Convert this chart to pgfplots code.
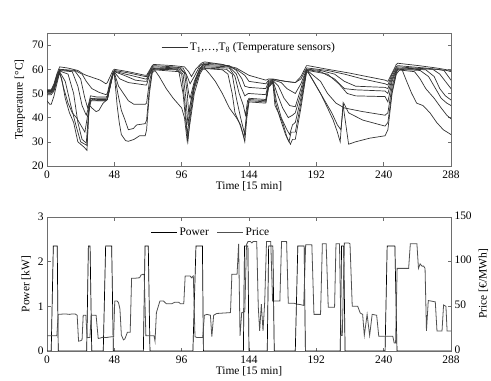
\documentclass[border=0pt]{standalone}
\usepackage{fontspec}
\setmainfont{Liberation Serif}
\usepackage{pgfplots}
\pgfplotsset{compat=1.18}
\definecolor{tempgray}{RGB}{50,50,50}
\definecolor{pricegray}{RGB}{80,80,80}
\definecolor{framegray}{RGB}{110,110,110}

\pgfplotsset{
  matlab/.style={
    scale only axis, width=404bp,
    xmin=0, xmax=288, xtick={0,48,...,288},
    tick align=inside, major tick length=3.5bp,
    axis line style={framegray, line width=0.7pt},
    tick style={framegray, line width=0.6pt},
    font=\fontsize{11.5}{13}\selectfont,
    /pgf/number format/assume math mode=true,
    xlabel={Time [15 min]},
    xlabel style={yshift=4bp},
    xticklabel style={yshift=-1bp},
    legend style={draw=none, fill=none, font=\fontsize{11.5}{13}\selectfont},
    legend image code/.code={\draw[#1] (0bp,0bp) -- (26bp,0bp);},
  },
}

\begin{document}
\begin{tikzpicture}
\useasboundingbox (0,0) rectangle (491bp,381bp);

% temperature sensors
\begin{axis}[matlab,
  at={(47bp,215bp)}, anchor=south west, height=133bp,
  ymin=20, ymax=75, ytick={20,30,...,70},
  ylabel={Temperature [°C]},
  legend style={at={(0.5,0.96)}, anchor=north},
]
\addplot[tempgray, line width=0.7pt] coordinates {(0,51.5) (3,51.5) (5,54) (7,58) (9,61) (15,60.5) (22,59.5) (26,58) (28,57.5) (33,56.5) (38,55.5) (42,54) (43,54.5) (45,57) (47,59.5) (48,60) (58,59) (70,57.5) (71,57.5) (73,59.5) (75,61.5) (76,62) (90,61.5) (98,61) (101,59) (103,57) (106,60) (110,62.5) (112,63) (113,63) (125,62) (135,60.5) (141,58.5) (144,57.5) (156,55.5) (158,56) (161,56) (170,55) (177,54.5) (181,57) (185,61.5) (186,61.5) (200,60) (215,58.5) (228,57) (241,55.5) (243,55) (246,58.5) (249,62) (250,62.5) (265,61.5) (278,60.5) (288,59.5)};
\addlegendentry{T\textsubscript{1},\ldots,T\textsubscript{8} (Temperature sensors)}
\addplot[tempgray, line width=0.7pt, forget plot] coordinates {(0,51.2) (3,51.2) (5,53.5) (7,57.5) (9,60) (20,59.5) (25,58) (28,55) (32,52) (37,50.5) (42,49.5) (43,50) (45,55) (47,58.5) (48,59.5) (58,58.5) (70,57) (71,57) (73,59) (75,61) (76,61.5) (90,61) (97,60.5) (100,57) (102,54) (105,57) (109,61.5) (112,62.5) (113,62.5) (125,62) (135,60) (141,57.5) (144,55) (156,54) (158,55.5) (161,55.8) (170,55) (177,54.5) (181,56) (185,60.5) (186,60.5) (200,59.5) (212,58) (225,56) (241,54) (243,53.5) (246,58) (249,61) (250,61.5) (270,60.5) (285,59.5) (288,59)};
\addplot[tempgray, line width=0.7pt, forget plot] coordinates {(0,51) (3,51) (5,53) (7,57) (9,59.8) (20,59.2) (24,56) (27,48) (29,44) (31,49) (36,48.5) (42,48.5) (43,49) (45,54) (47,58) (48,59.2) (56,58) (70,56) (71,56) (73,58.5) (75,60.5) (76,61) (95,60.5) (99,58) (101,50) (102,48) (105,55) (109,60.5) (112,62) (113,62) (130,61.5) (135,59.5) (139,56) (141,53) (144,52.5) (156,52) (158,55) (161,55.6) (167,54.5) (171,52) (177,50) (181,54) (185,60) (186,60) (195,59.5) (205,58) (212,55) (220,53) (241,52.5) (243,52) (246,57) (249,60.5) (250,61) (270,60.2) (278,60) (283,59.5) (288,55.5)};
\addplot[tempgray, line width=0.7pt, forget plot] coordinates {(0,50.8) (3,50.8) (5,52.5) (7,56.5) (9,59.5) (18,59) (22,53) (25,45) (28,41) (29.5,44) (31,48) (36,47.5) (42,47.5) (43,48) (45,53.5) (47,58.5) (48,59) (55,57.5) (63,55.5) (70,55) (71,55) (73,58) (75,60) (76,60.5) (94,60.2) (98,58.5) (100,50) (101,42) (103,48) (106,56) (109,60) (111,62) (113,61.5) (130,61) (135,58) (138,53) (141,49) (143.5,50) (156,49.5) (158,54.5) (161,55.4) (165,53) (169,48) (173,45) (177,44.5) (181,52) (185,59.8) (186,59.8) (195,59) (205,56) (212,52) (220,51.5) (241,51) (243,50) (246,56) (249,60) (250,60.5) (275,60) (280,58) (284,55) (288,52)};
\addplot[tempgray, line width=0.7pt, forget plot] coordinates {(0,50.5) (3,50.5) (5,52) (7,56) (9,59.3) (15,58) (19,50) (22,38) (25,31) (28,29.5) (30,45) (31.5,48) (36,47) (42,47) (43,47.5) (45,53) (47,58.5) (48,58.8) (52,56) (58,54.5) (70,53.5) (71,53.5) (73,57.5) (75,60) (76,60.3) (93,60) (97,58) (99,48) (100.5,37) (102,45) (105,54) (109,60) (111,61.5) (113,61) (130,60.5) (134,57) (137,50) (140,45) (141.5,41) (143,47) (144,48) (156,47.5) (158,54) (161,55.2) (164,50) (168,44) (172,40) (175,41) (177,42) (181,50) (185,59.5) (186,59.5) (200,58) (208,54) (214,50) (220,49) (241,48.7) (243,46.5) (246,55) (249,59.5) (250,60.2) (270,59.8) (276,57) (280,52) (284,49) (288,47.3)};
\addplot[tempgray, line width=0.7pt, forget plot] coordinates {(0,50.2) (3,50.2) (5,51.5) (7,55.5) (9,59) (13,55) (17,45) (21,36) (24,30) (27,29) (28.5,28.5) (30,44) (31.5,47) (42,47) (43,47.5) (45,53) (47,58) (48,58.5) (51,53) (54.5,50) (58,47) (62,45.5) (70,45.5) (71,46) (73,55) (75,59.5) (76,60) (92,59.8) (96,58) (98.5,45) (100,33) (102,42) (105,53) (109,59) (111,61) (113,60.5) (128,60) (132,58) (135,48) (138,40) (141,33) (142.5,43) (144,47.5) (156,47) (158,53.5) (161,55) (163.5,47) (167,40) (171,35) (173,33) (175,37) (177,38) (181,48) (185,59.3) (186,59.3) (195,55) (200,50) (206,46) (212,44) (225,42.5) (241,41) (243,42) (246,53) (249,59) (250,60) (266,59.5) (272,57) (277,52) (281,48) (285,46) (288,45)};
\addplot[tempgray, line width=0.7pt, forget plot] coordinates {(0,49.5) (3,49.5) (5,51) (7,55) (9,58.8) (12,52) (15,46) (18,42) (21,40) (24,37) (27,34) (29,41) (30.5,45) (32,44) (35,42.5) (37,43) (40,46) (42,47) (43,47.5) (45,52.5) (47,58) (48,58.2) (50.5,50) (53,43) (55,40) (58,35) (61.5,35.5) (64,37) (70,37.5) (71,39) (73,52) (75,59) (76,59.8) (94,59) (97,50) (99,38) (100.5,30.5) (102,40) (105,52) (109,59) (111,60.5) (113,60.3) (125,59.8) (129,58) (132,50) (134,42) (137,38) (140.5,32) (142.5,42) (144,47) (156,46.5) (158,53) (161,54.7) (163,46) (166,40) (170,33) (172.5,30) (174,34) (177,34) (181,46) (185,59) (186,59) (192,53) (198,47) (203,42) (207,37) (209.5,35) (211.5,46) (215,42) (225,39) (241,36.5) (243,38) (246,51) (249,58.5) (250,59.8) (262,59) (266,56) (270,52) (276,48) (281,44) (285,41) (288,39.5)};
\addplot[tempgray, line width=0.7pt, forget plot] coordinates {(0,47) (2,45.5) (3,45.5) (5,49) (7,54) (9,58.5) (10.5,56) (13,48) (16,42) (19,38) (22,30) (24,29) (26,28) (28.5,26.5) (29.5,40) (31,47) (34,48) (40,48) (42,48) (43,48.5) (45,53) (47,57.5) (48,58) (50,45) (51.5,38) (53,33) (56,30.5) (58,30.2) (62,31) (66,32.5) (70,32.5) (71,35) (73,50) (75,58.5) (77,59.5) (80,57) (85,52) (90,48) (93,46) (96,44) (98,40) (100,30) (102,38) (105,50) (109,58) (111,60) (113,60) (116,58) (120,55) (125,50) (130,44) (135,40) (138,37) (141,30) (142.5,40) (144,46.5) (156,46) (158,52.5) (161,54.5) (162.5,45) (165,42) (168,38) (171,32) (173.5,29) (175,31) (177,31) (181,44) (185,58.8) (186,58.8) (190,55) (195,50) (200,44) (204,39) (207,34) (209,30) (211,45.5) (215,29) (220,30) (230,31.5) (241,32.5) (243,35) (246,50) (249,58) (251,59.5) (253,60) (256.4,55) (260,50) (263.5,46) (268,45) (273,42) (277.8,38) (282.5,35) (288,33)};
\end{axis}

% power (left axis)
\begin{axis}[matlab,
  at={(47bp,30bp)}, anchor=south west, height=134bp,
  ymin=0, ymax=3, ytick={0,1,2,3}, ytick pos=left,
  ylabel={Power [kW]},
]
\addplot[black, line width=0.7pt] coordinates {(0,0) (3,0) (4.5,2.35) (7.3,2.35) (8,0) (28.3,0) (29.5,2.35) (30.7,2.35) (31.9,0) (40.1,0) (41.8,2.35) (46.1,2.35) (47.3,0) (68.7,0) (69.9,2.35) (72.2,2.35) (73.4,0) (104,0) (106.2,2.35) (110.8,2.35) (111.5,0) (140,0) (140.8,2.35) (143.2,2.35) (144,0) (157,0) (158,2.35) (161,2.35) (162,0) (177,0) (178.8,2.35) (183.3,2.35) (184.2,0) (209,0) (210,2.35) (211.5,2.35) (212.5,0) (241,0) (242.5,2.35) (248,2.35) (249.5,0) (288,0)};
\end{axis}

% price (right axis)
\begin{axis}[matlab,
  at={(47bp,30bp)}, anchor=south west, height=134bp,
  axis x line=none, axis y line*=right,
  ymin=0, ymax=150, ytick={0,50,100,150},
  yticklabel style={yshift=1.5bp},
  ylabel={Price [€/MWh]},
  legend style={at={(0.406,0.95)}, anchor=north, legend columns=2,
    /tikz/every even column/.append style={column sep=6bp}},
]
\addlegendimage{black, line width=0.7pt}
\addlegendentry{Power}
\addplot[pricegray, line width=0.8pt] coordinates {(0,17) (7,17) (8,41) (13,41.5) (16,41) (18,41.5) (20,41.5) (21.5,40) (22.5,11) (24,11.5) (25,12.5) (25.8,40) (27.7,40) (28.6,15) (30.6,15) (31.5,40) (35,40) (36.5,14) (38,14.5) (40,15.5) (42,15) (44,15.5) (46.5,16) (47.5,16) (48.3,56) (50,56) (51,54) (52,47) (53,18) (54.5,12.5) (55.5,13.5) (56.5,17.5) (57.3,21) (59.3,21) (60.3,81.5) (63,81.5) (66,82) (67,85) (68.5,86) (69.3,85) (70.5,17) (73,17) (76.3,17) (77,11) (78,43) (80.5,56) (83,56) (85,53) (89,53) (91,54.5) (94,54.5) (95,53) (97.5,53) (98.5,84) (102,84) (103,82) (104.3,84) (105.5,16) (107,15) (111,15) (112.2,40) (114,41) (116.5,40) (117.5,16) (118.8,40) (121,42) (126,42.5) (130.8,43) (131.8,86) (135.5,86) (136.6,120) (137.6,17) (138.8,43) (141,44) (142.2,119) (143.3,122.5) (145,122.5) (146,121) (147,122.5) (149.5,122.5) (150.6,50) (151.6,22.5) (152.8,52.5) (154,22.5) (155.2,55) (156.5,122.5) (159.5,122.5) (160.8,56) (166,56) (167.2,122.5) (170.8,122.5) (172,53.5) (176,53.5) (178,52.5) (180.5,52) (183,51) (184.4,119) (188.8,119) (190.3,41) (195,41) (196.3,120) (199,120) (200.5,49) (205,49) (206,120) (208.5,120) (209.6,17.5) (210.5,17.5) (212,121) (215,121) (216,120) (217.6,50) (221.5,50) (223.3,42.5) (225,41) (226.2,17.5) (228.2,41) (230,17.5) (231.8,41) (235,40) (236.5,16.5) (243,16.5) (246.5,16.5) (247.5,9) (248.5,9) (249.6,92.5) (257.8,92.5) (259,120) (263.7,120) (264.8,92.5) (266,97.5) (267.3,95) (268.5,95) (269.5,92.5) (270.5,22.5) (271.8,56.5) (276.8,55) (278,22.5) (281.6,22.5) (282.7,51.5) (284.4,50) (285.2,22.5) (288,22.5)};
\addlegendentry{Price}
\end{axis}
\end{tikzpicture}
\end{document}
